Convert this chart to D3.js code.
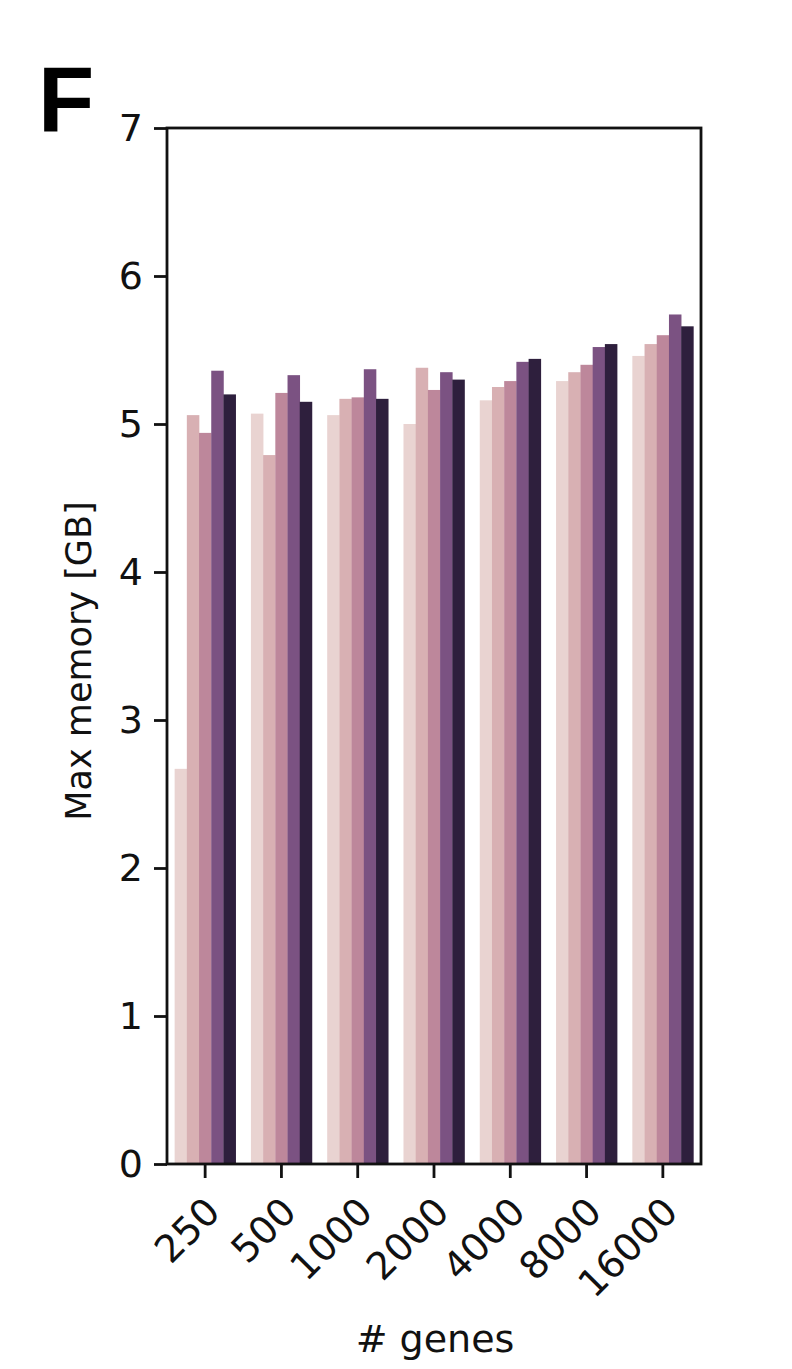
<!DOCTYPE html>
<html>
<head>
<meta charset="utf-8">
<script src="https://cdn.jsdelivr.net/npm/d3@7"></script>
<style>
  body { margin: 0; background: #fff; }
  svg { display: block; }
  .tick text { font-family: "DejaVu Sans", Verdana, sans-serif; }
</style>
</head>
<body>
<div id="chart"></div>
<script>
// data
var genes = ["250", "500", "1000", "2000", "4000", "8000", "16000"];
var series = ["s1", "s2", "s3", "s4", "s5"];
var s1 = [2.67, 5.07, 5.06, 5.00, 5.16, 5.29, 5.46];
var s2 = [5.06, 4.79, 5.17, 5.38, 5.25, 5.35, 5.54];
var s3 = [4.94, 5.21, 5.18, 5.23, 5.29, 5.40, 5.60];
var s4 = [5.36, 5.33, 5.37, 5.35, 5.42, 5.52, 5.74];
var s5 = [5.20, 5.15, 5.17, 5.30, 5.44, 5.54, 5.66];
var yTicks = [0, 1, 2, 3, 4, 5, 6, 7];
var colors = ["#e9d3d1", "#d8b0b3", "#bd879b", "#7b5282", "#2e1f3d"];

var values = [s1, s2, s3, s4, s5];
var rows = [];
genes.forEach((g, gi) => {
    series.forEach((s, si) => {
        rows.push({ gene: g, series: s, value: values[si][gi] });
    });
});

var w = 792, h = 1369;
var plotLeft = 167, plotRight = 701, plotTop = 128, plotBottom = 1164;
var font = "'DejaVu Sans', Verdana, sans-serif";

var svg = d3.select("#chart").append("svg")
    .attr("width", w)
    .attr("height", h);

var xscale = d3.scaleBand()
    .domain(genes)
    .range([plotLeft, plotRight])
    .paddingInner(0.2)
    .paddingOuter(0.1);

var hue = d3.scaleBand()
    .domain(series)
    .range([0, xscale.bandwidth()]);

var yscale = d3.scaleLinear()
    .domain([0, 7])
    .range([plotBottom, plotTop]);

var color = d3.scaleOrdinal().domain(series).range(colors);

// bars
svg.selectAll("rect.bar")
    .data(rows)
    .enter().append("rect")
    .attr("class", "bar")
    .attr("x", d => xscale(d.gene) + hue(d.series))
    .attr("width", hue.bandwidth() + 0.3)
    .attr("y", d => yscale(d.value))
    .attr("height", d => plotBottom - yscale(d.value))
    .attr("fill", d => color(d.series));

// y axis
var yaxis = svg.append("g")
    .attr("transform", "translate(" + plotLeft + ",0)")
    .call(d3.axisLeft(yscale).tickValues(yTicks).tickSize(13).tickPadding(11).tickFormat(d3.format("d")));
yaxis.selectAll("text").style("font-size", "38px").attr("fill", "#111");

// x axis
var xaxis = svg.append("g")
    .attr("transform", "translate(0," + plotBottom + ")")
    .call(d3.axisBottom(xscale).tickSize(14));
xaxis.selectAll("text")
    .style("font-size", "38px")
    .attr("fill", "#111")
    .attr("text-anchor", "end")
    .attr("x", 0).attr("y", 0).attr("dy", 0)
    .attr("transform", "translate(17,50) rotate(-45)");

svg.selectAll(".domain").remove();
svg.selectAll(".tick line").attr("stroke", "#111").attr("stroke-width", 2.8);

// frame
svg.append("rect")
    .attr("x", plotLeft).attr("y", plotTop)
    .attr("width", plotRight - plotLeft).attr("height", plotBottom - plotTop)
    .attr("fill", "none")
    .attr("stroke", "#111")
    .attr("stroke-width", 2.8);

// axis titles
svg.append("text")
    .attr("transform", "translate(91," + ((plotTop + plotBottom) / 2 + 15) + ") rotate(-90)")
    .attr("text-anchor", "middle")
    .style("font-family", font)
    .style("font-size", "35px")
    .attr("fill", "#111")
    .text("Max memory [GB]");

svg.append("text")
    .attr("x", (plotLeft + plotRight) / 2 + 1)
    .attr("y", 1352)
    .attr("text-anchor", "middle")
    .style("font-family", font)
    .style("font-size", "38px")
    .attr("fill", "#111")
    .text("# genes");

// panel letter
svg.append("text")
    .attr("x", 38)
    .attr("y", 131)
    .style("font-family", "'Liberation Sans', Arial, sans-serif")
    .style("font-weight", "bold")
    .style("font-size", "92px")
    .text("F");
</script>
</body>
</html>
